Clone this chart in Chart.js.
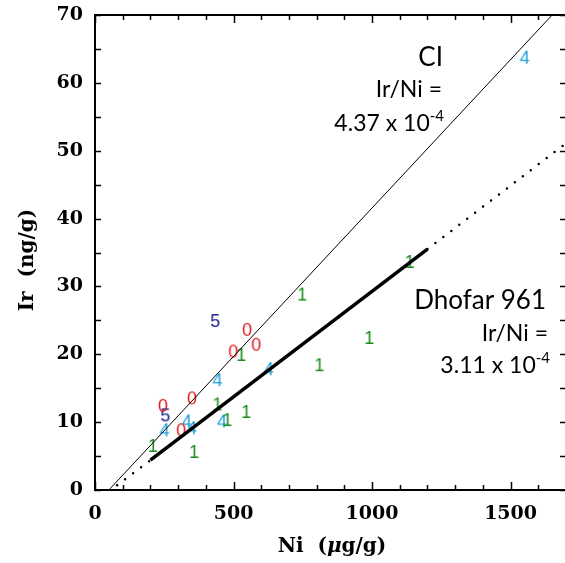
<!DOCTYPE html>
<html>
<head>
<meta charset="utf-8">
<script src="https://cdn.jsdelivr.net/npm/chart.js@4.4.1/dist/chart.umd.min.js"></script>
<style>
html, body { margin: 0; padding: 0; background: #fff; overflow: hidden; }
#wrap { width: 572px; height: 563px; }
</style>
</head>
<body>
<div id="wrap"><canvas id="ChartA" width="572" height="563"></canvas></div>
<script>
// sample points, labelled by group digit
let niZero = [549, 582, 499, 350, 245, 311];
let irZero = [23.6, 21.4, 20.4, 13.5, 12.4, 8.8];
let niOne = [528, 442, 546, 478, 209, 358, 1136, 748, 990, 810];
let irOne = [19.9, 12.6, 11.5, 10.3, 6.5, 5.6, 33.6, 28.8, 22.4, 18.4];
let niFour = [1551, 627, 442, 331, 458, 251, 350];
let irFour = [63.7, 17.8, 16.2, 10.1, 10.1, 8.8, 9.1];
let niFive = [434, 254];
let irFive = [24.9, 11.0];

// reference lines
let ciNi = [50, 1650];
let ciIr = [0, 70];
let dhNi = [200, 1200];
let dhIr = [4.4, 35.5];
let dotLowNi = [80, 200];
let dotLowIr = [0.7, 4.4];
let dotHighNi = [1200, 1700];
let dotHighIr = [35.5, 51.1];

let xTickLabels = [0, 500, 1000, 1500];
let yTickLabels = [0, 10, 20, 30, 40, 50, 60, 70];

function pts(xs, ys) {
  return xs.map(function(v, i) { return {x: v, y: ys[i]}; });
}

function digitSprite(txt, color) {
  var c = document.createElement('canvas');
  c.width = 24; c.height = 24;
  var g = c.getContext('2d');
  g.font = '18px "Liberation Sans", Arial, sans-serif';
  g.fillStyle = color;
  g.textAlign = 'center';
  g.textBaseline = 'alphabetic';
  g.fillText(txt, 12, 12 + 0.36 * 18);
  return c;
}

function lineSet(data, width, dash) {
  return {
    type: 'line', data: data, showLine: true, borderColor: '#000',
    borderWidth: width, borderDash: dash || [], borderCapStyle: dash ? 'round' : 'butt',
    pointRadius: 0, fill: false, tension: 0
  };
}

function pointSet(data, txt, color) {
  return {
    type: 'scatter', data: data, pointStyle: digitSprite(txt, color),
    pointRadius: 5, showLine: false
  };
}

function noPad(s) {
  s.paddingTop = 0; s.paddingBottom = 0; s.paddingLeft = 0; s.paddingRight = 0;
}

var frame = {
  id: 'frame',
  afterDraw: function(chart) {
    var ctx = chart.ctx, a = chart.chartArea;
    var xs = chart.scales.x, ys = chart.scales.y;
    ctx.save();
    ctx.strokeStyle = '#000';
    ctx.lineWidth = 2;
    ctx.strokeRect(a.left, a.top, a.right - a.left, a.bottom - a.top);
    ctx.lineWidth = 1.5;
    ctx.beginPath();
    for (var v = 0; v <= 1700; v += 100) {
      var px = Math.round(xs.getPixelForValue(v)) + 0.5;
      var len = v % 500 === 0 ? 8 : 5;
      ctx.moveTo(px, a.bottom); ctx.lineTo(px, a.bottom - len);
      ctx.moveTo(px, a.top); ctx.lineTo(px, a.top + len);
    }
    for (var w = 0; w <= 70; w += 5) {
      var py = Math.round(ys.getPixelForValue(w)) + 0.5;
      ctx.moveTo(a.left, py); ctx.lineTo(a.left + 6, py);
      ctx.moveTo(a.right, py); ctx.lineTo(a.right - 6, py);
    }
    ctx.stroke();

    // axis titles
    ctx.fillStyle = '#000';
    var tf = 'bold 20px "DejaVu Serif", serif';
    var tfi = 'italic bold 20px "DejaVu Serif", serif';
    ctx.textBaseline = 'alphabetic';
    var p1 = 'Ni  (', p2 = '\u03bc', p3 = 'g/g)';
    ctx.font = tf; var w1 = ctx.measureText(p1).width, w3 = ctx.measureText(p3).width;
    ctx.font = tfi; var w2 = ctx.measureText(p2).width;
    var x0 = 332 - (w1 + w2 + w3) / 2;
    ctx.textAlign = 'left';
    ctx.font = tf; ctx.fillText(p1, x0, 552);
    ctx.font = tfi; ctx.fillText(p2, x0 + w1, 552);
    ctx.font = tf; ctx.fillText(p3, x0 + w1 + w2, 552);

    ctx.save();
    ctx.translate(33, 260);
    ctx.rotate(-Math.PI / 2);
    ctx.textAlign = 'center';
    ctx.font = tf;
    ctx.fillText('Ir  (ng/g)', 0, 0);
    ctx.restore();

    // annotations
    function sup(main, exp, right, base, size) {
      ctx.font = '15px Lato, sans-serif';
      var ew = ctx.measureText(exp).width;
      ctx.textAlign = 'left';
      ctx.fillText(exp, right - ew, base - 10);
      ctx.font = size + 'px Lato, sans-serif';
      ctx.textAlign = 'right';
      ctx.fillText(main, right - ew, base);
    }
    ctx.textAlign = 'right';
    ctx.font = '26px Lato, sans-serif';
    ctx.fillText('CI', 443, 66);
    ctx.font = '23px Lato, sans-serif';
    ctx.fillText('Ir/Ni =', 442, 97);
    sup('4.37 x 10', '-4', 444, 131, 23);

    ctx.textAlign = 'right';
    ctx.font = '26px Lato, sans-serif';
    ctx.fillText('Dhofar 961', 546, 309);
    ctx.font = '23px Lato, sans-serif';
    ctx.fillText('Ir/Ni =', 548, 341);
    sup('3.11 x 10', '-4', 550, 373, 23);
    ctx.restore();
  }
};

var ctx = document.getElementById('ChartA').getContext('2d');
var myChart = new Chart(ctx, {
  type: 'scatter',
  data: {
    datasets: [
      lineSet(pts(ciNi, ciIr), 1),
      lineSet(pts(dhNi, dhIr), 3.5),
      lineSet(pts(dotLowNi, dotLowIr), 2.5, [0, 10]),
      lineSet(pts(dotHighNi, dotHighIr), 2.5, [0, 10]),
      pointSet(pts(niZero, irZero), '0', '#e01818'),
      pointSet(pts(niOne, irOne), '1', '#1a8a1a'),
      pointSet(pts(niFour, irFour), '4', '#1c9fd6'),
      pointSet(pts(niFive, irFive), '5', '#1a1a88')
    ]
  },
  options: {
    responsive: false,
    animation: false,
    events: [],
    layout: { padding: { top: 15, right: 3, left: 0, bottom: 0 } },
    plugins: { legend: { display: false }, tooltip: { enabled: false } },
    scales: {
      x: {
        type: 'linear', min: 0, max: 1700,
        grid: { display: false, drawTicks: false },
        border: { display: false },
        afterBuildTicks: function(s) { s.ticks = xTickLabels.map(function(v) { return {value: v}; }); },
        ticks: {
          autoSkip: false, padding: 13, color: '#000', maxRotation: 0,
          font: { family: '"DejaVu Serif", serif', size: 19, weight: 'bold' },
          callback: function(v) { return String(v); }
        },
        afterFit: function(s) { s.height = 73; noPad(s); }
      },
      y: {
        type: 'linear', min: 0, max: 70,
        grid: { display: false, drawTicks: false },
        border: { display: false },
        afterBuildTicks: function(s) { s.ticks = yTickLabels.map(function(v) { return {value: v}; }); },
        ticks: {
          autoSkip: false, padding: 12, color: '#000',
          font: { family: '"DejaVu Serif", serif', size: 19, weight: 'bold' },
          callback: function(v) { return String(v); }
        },
        afterFit: function(s) { s.width = 95; noPad(s); }
      }
    }
  },
  plugins: [frame]
});
</script>
</body>
</html>
